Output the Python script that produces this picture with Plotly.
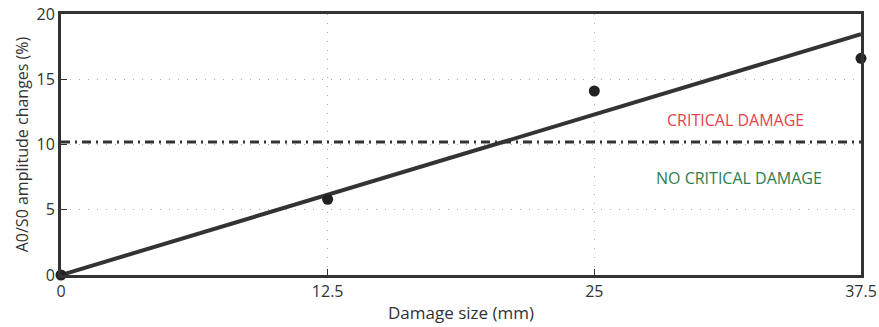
import plotly.graph_objects as go

damage_size = [0, 12.5, 25, 37.5]
amplitude_change = [0, 5.8, 14.1, 16.6]
fit_x = [0, 37.5]
fit_y = [0, 18.45]
threshold = 10.2
x_ticks = [0, 12.5, 25, 37.5]
x_tick_labels = ["0", "12.5", "25", "37.5"]
y_ticks = [0, 5, 10, 15, 20]

FONT = "Open Sans"
DARK = "#333333"

fig = go.Figure()
fig.add_trace(go.Scatter(x=[0, 37.5], y=[threshold, threshold], mode="lines",
                         line=dict(color=DARK, width=3, dash="9px,5px,2px,5px"),
                         hoverinfo="skip", showlegend=False))
fig.add_trace(go.Scatter(x=fit_x, y=fit_y, mode="lines",
                         line=dict(color=DARK, width=4), showlegend=False))
fig.add_trace(go.Scatter(x=damage_size, y=amplitude_change, mode="markers",
                         marker=dict(color="#222222", size=11), showlegend=False,
                         cliponaxis=False))

fig.add_annotation(x=31.6, y=11.9, text="CRITICAL DAMAGE", showarrow=False,
                   font=dict(family=FONT, size=16, color="#e8414b"))
fig.add_annotation(x=31.8, y=7.4, text="NO CRITICAL DAMAGE", showarrow=False,
                   font=dict(family=FONT, size=16, color="#2e7d4f"))

fig.update_layout(
    width=879, height=327,
    margin=dict(l=61, r=18, t=14, b=52),
    plot_bgcolor="white", paper_bgcolor="white",
    font=dict(family=FONT, size=16, color=DARK),
    xaxis=dict(range=[0, 37.5], tickvals=x_ticks, ticktext=x_tick_labels,
               automargin=False,
               showline=True, linecolor=DARK, linewidth=3, mirror=True,
               ticks="inside", ticklen=6, tickcolor=DARK, tickwidth=1,
               showgrid=True, gridcolor="#aaaaaa", griddash="1px,8px", gridwidth=1,
               zeroline=False, tickfont=dict(size=16),
               title=dict(text="Damage size (mm)", standoff=6,
                          font=dict(family=FONT, size=17))),
    yaxis=dict(range=[0, 20], tickvals=y_ticks, automargin=False,
               showline=True, linecolor=DARK, linewidth=3, mirror=True,
               ticks="inside", ticklen=6, tickcolor=DARK, tickwidth=1,
               showgrid=True, gridcolor="#aaaaaa", griddash="1px,8px", gridwidth=1,
               zeroline=False, tickfont=dict(size=16),
               title=dict(text="A0/S0 amplitude changes (%)", standoff=4,
                          font=dict(family=FONT, size=16))),
)

fig.write_html("out.html", config={"displayModeBar": False},
               post_script="document.body.style.margin='0';document.body.style.overflow='hidden';")
